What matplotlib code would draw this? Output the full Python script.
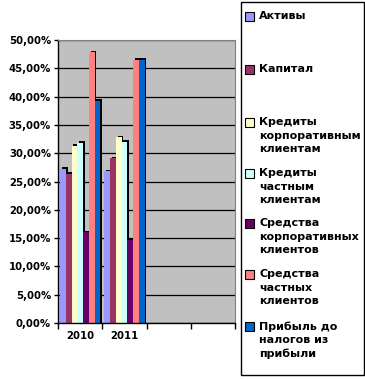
import numpy as np
import matplotlib
matplotlib.use('Agg')
import matplotlib.pyplot as plt
from matplotlib.patches import Rectangle

years = ['2010', '2011', '', '']
series = ['Активы', 'Капитал', 'Кредиты\nкорпоративным\nклиентам',
          'Кредиты\nчастным\nклиентам', 'Средства\nкорпоративных\nклиентов',
          'Средства\nчастных\nклиентов', 'Прибыль до\nналогов из\nприбыли']
colors = ['#9999FF', '#993366', '#FFFFCC', '#CCFFFF', '#660066', '#FF8080', '#0066CC']
values_2010 = [27.2, 26.3, 31.3, 31.8, 16.0, 47.8, 39.3]
values_2011 = [26.8, 29.1, 32.8, 32.0, 14.6, 46.5, 46.5]
values = [values_2010, values_2011]

fig = plt.figure(figsize=(3.65, 3.79), dpi=100)
ax = fig.add_axes([58/365, 1-323/379, 177/365, 283/379])
ax.set_facecolor('#C0C0C0')

w = 0.13
dx, dy = 0.035, 0.3
for k in range(len(series)):
    xs = np.arange(len(values)) + 0.05 + k*w
    hs = np.array([v[k] for v in values])
    # depth (3D look)
    ax.bar(xs + dx, hs + dy, width=w, align='edge', color='black', zorder=2+k*0.01)
    ax.bar(xs, hs, width=w, align='edge', color=colors[k], zorder=2.005+k*0.01)

ax.set_xlim(0, 4)
ax.set_ylim(0, 50)
ax.set_yticks(np.arange(0, 51, 5))
ax.yaxis.set_major_formatter(matplotlib.ticker.FuncFormatter(lambda v, p: ('%.2f%%' % v).replace('.', ',')))
ax.grid(axis='y', color='black', linewidth=0.9, zorder=1)
ax.set_axisbelow(True)
ax.set_xticks([0, 1, 2, 3, 4])
ax.set_xticklabels([])
ax.set_xticks([0.5, 1.5, 2.5, 3.5], minor=True)
ax.set_xticklabels(years, minor=True)
ax.tick_params(axis='x', which='minor', length=0, pad=6)
ax.tick_params(axis='x', which='major', length=4, direction='out', width=1)
ax.tick_params(axis='y', length=3, direction='out', width=1, pad=2)
for lab in ax.get_yticklabels() + ax.get_xticklabels(minor=True):
    lab.set_fontweight('bold')
    lab.set_fontsize(7.3)
for s in ['top', 'right']:
    ax.spines[s].set_color('#808080')
for s in ['left', 'bottom']:
    ax.spines[s].set_color('black')
    ax.spines[s].set_linewidth(1)

# legend
fig.add_artist(Rectangle((241/365, 1-375/379), 123/365, 373/379, transform=fig.transFigure,
                         facecolor='white', edgecolor='black', linewidth=1))
label_y = [18, 71, 124, 175, 225, 276, 328]
for k in range(len(series)):
    y = label_y[k]
    fig.add_artist(Rectangle((245/365, 1-(y+3)/379), 9/365, 9/379, transform=fig.transFigure,
                             facecolor=colors[k], edgecolor='black', linewidth=0.8))
    fig.text(259/365, 1-(y-7)/379, series[k], fontsize=8, fontweight='bold', va='top',
             ha='left', linespacing=1.45)

fig.savefig('out.png', dpi=100)
